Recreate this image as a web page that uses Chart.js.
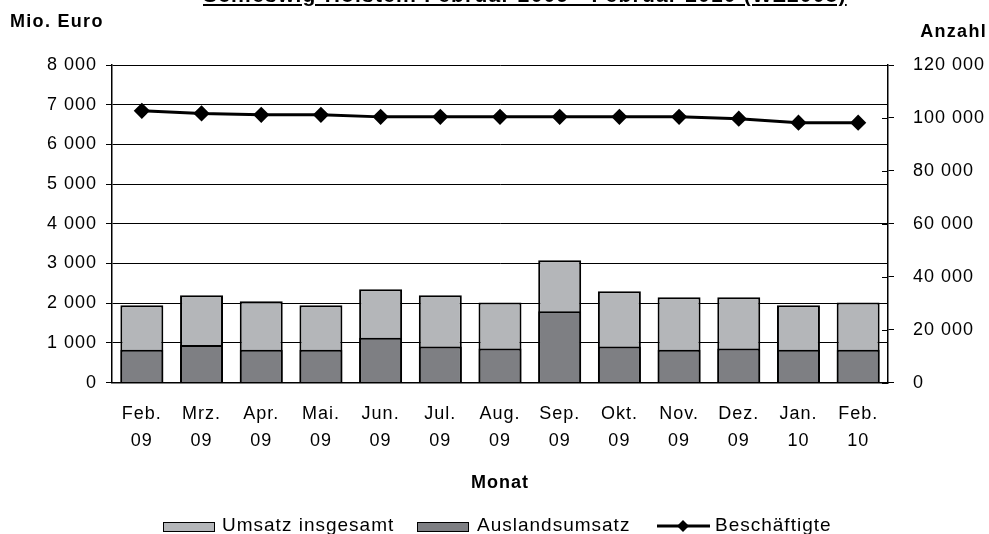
<!DOCTYPE html>
<html>
<head>
<meta charset="utf-8">
<script src="https://cdn.jsdelivr.net/npm/chart.js@4"></script>
<style>
  html, body { margin: 0; padding: 0; background: #fff; }
  #wrap { position: relative; width: 989px; height: 534px; overflow: hidden; font-family: "Liberation Sans", Arial, sans-serif; color: #000; }
  #title { position: absolute; top: -17px; left: 203px; font-weight: bold; font-size: 21px; letter-spacing: 1.2px; text-decoration: underline; white-space: nowrap; }
  .axt { position: absolute; font-weight: bold; font-size: 18px; letter-spacing: 1.3px; }
  canvas { position: absolute; left: 0; top: 0; }
  #legend { position: absolute; top: 514px; left: 0; font-size: 19px; line-height: 22px; letter-spacing: 1px; }
  #legend span { position: absolute; white-space: nowrap; }
  .box { position: absolute; top: 8px; width: 50px; height: 8px; border: 1px solid #000; }
</style>
</head>
<body>
<div id="wrap">
  <canvas id="c" width="989" height="534"></canvas>
  <div id="title">Schleswig-Holstein Februar 2009 - Februar 2010 (WZ2008)</div>
  <div class="axt" style="left:10px;top:11px">Mio. Euro</div>
  <div class="axt" style="right:2px;top:21px">Anzahl</div>
  <div id="legend"></div>
</div>
<script>
// data
const months = [["Feb.","09"],["Mrz.","09"],["Apr.","09"],["Mai.","09"],["Jun.","09"],["Jul.","09"],["Aug.","09"],["Sep.","09"],["Okt.","09"],["Nov.","09"],["Dez.","09"],["Jan.","10"],["Feb.","10"]];
const umsatz = [1950, 2200, 2050, 1950, 2350, 2200, 2020, 3080, 2300, 2150, 2150, 1950, 2020];
const ausland = [830, 950, 830, 830, 1130, 910, 860, 1800, 910, 830, 860, 830, 830];
const beschaeftigte = [102700, 101700, 101200, 101200, 100400, 100400, 100400, 100400, 100400, 100400, 99700, 98200, 98200];

const lightGrey = "#b4b6b9", darkGrey = "#7e7f83";
const fmt = v => String(v).replace(/\B(?=(\d{3})+(?!\d))/g, " ");
const font = { family: "'Liberation Sans', Arial, sans-serif", size: 18 };

// the reference text runs a bit wide
const spacing = {
  id: "spacing",
  beforeUpdate(chart) { chart.ctx.letterSpacing = "1px"; },
  beforeDraw(chart) { chart.ctx.letterSpacing = "1px"; }
};

// ticks on the right axis also point into the plot
const innerTicks = {
  id: "innerTicks",
  afterDraw(chart) {
    const s = chart.scales.y2, ctx = chart.ctx;
    ctx.save();
    ctx.strokeStyle = "#000";
    ctx.lineWidth = 1;
    s.ticks.forEach(t => {
      const y = Math.round(s.getPixelForValue(t.value)) + 0.5;
      ctx.beginPath();
      ctx.moveTo(s.left - 6, y);
      ctx.lineTo(s.left, y);
      ctx.stroke();
    });
    ctx.restore();
  }
};

new Chart(document.getElementById("c"), {
  type: "bar",
  data: {
    labels: months,
    datasets: [
      { label: "Umsatz insgesamt", data: umsatz, backgroundColor: lightGrey, borderColor: "#000", borderWidth: 2, order: 2, yAxisID: "y", barPercentage: 0.72, categoryPercentage: 1 },
      { label: "Auslandsumsatz", data: ausland, backgroundColor: darkGrey, borderColor: "#000", borderWidth: 2, order: 1, yAxisID: "y", barPercentage: 0.72, categoryPercentage: 1 },
      { type: "line", label: "Beschäftigte", data: beschaeftigte, yAxisID: "y2", borderColor: "#000", backgroundColor: "#000", borderWidth: 3, pointStyle: "rectRot", pointRadius: 6, order: 0 }
    ]
  },
  options: {
    responsive: false,
    animation: false,
    layout: { padding: { left: 0, right: 0, top: 65, bottom: 36 } },
    plugins: { tooltip: { enabled: false }, legend: { display: false } },
    scales: {
      x: {
        stacked: true,
        grid: { display: false, drawTicks: false },
        border: { color: "#000", width: 1.5 },
        ticks: { color: "#000", font: { ...font, lineHeight: 1.55 }, padding: 17, maxRotation: 0 },
        title: { display: true, text: "Monat", color: "#000", font: { family: font.family, size: 18, weight: "bold" }, padding: { top: 0, bottom: 4 } }
      },
      y: {
        position: "left",
        min: 0, max: 8000,
        afterFit: s => { s.width = 112; },
        ticks: { stepSize: 1000, color: "#000", font: font, padding: 9, callback: v => fmt(v) },
        grid: { color: "#000", lineWidth: 1, tickLength: 6 },
        border: { color: "#000", width: 1.5 }
      },
      y2: {
        position: "right",
        min: 0, max: 120000,
        afterFit: s => { s.width = 101; },
        ticks: { stepSize: 20000, color: "#000", font: font, padding: 19, callback: v => fmt(v) },
        grid: { drawOnChartArea: false, color: "#000", tickLength: 6 },
        border: { color: "#000", width: 1.5 }
      }
    }
  },
  plugins: [spacing, innerTicks]
});

// legend as HTML
const leg = document.getElementById("legend");
leg.innerHTML =
  `<div class="box" style="left:163px;background:${lightGrey}"></div><span style="left:222px">Umsatz insgesamt</span>` +
  `<div class="box" style="left:417px;background:${darkGrey}"></div><span style="left:477px">Auslandsumsatz</span>` +
  `<svg style="position:absolute;left:657px;top:5px" width="53" height="14"><line x1="0" y1="7" x2="53" y2="7" stroke="#000" stroke-width="3"/><polygon points="26,1 32,7 26,13 20,7" fill="#000"/></svg>` +
  `<span style="left:715px">Beschäftigte</span>`;
</script>
</body>
</html>
